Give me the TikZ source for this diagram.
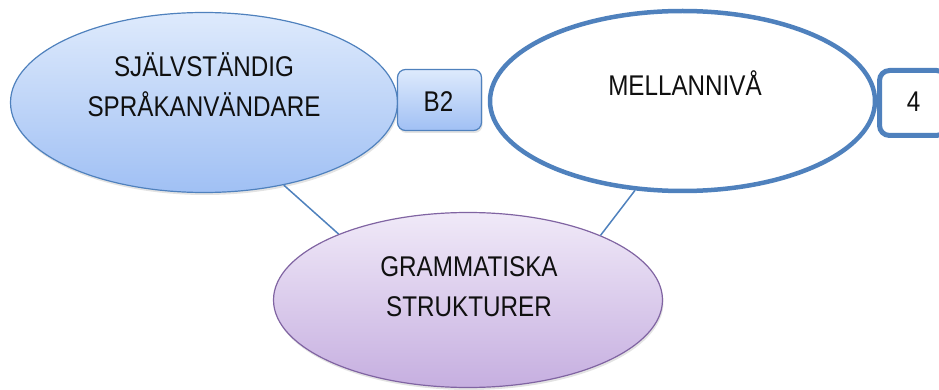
\documentclass[tikz,border=0pt]{standalone}
\usepackage{fontspec}
\setmainfont{Liberation Sans}[FakeStretch=0.85]
\usetikzlibrary{shapes.geometric,shadows}
\definecolor{bord}{HTML}{4F81BD}
\definecolor{lbtop}{HTML}{DEEAFC}
\definecolor{lbbot}{HTML}{A0C0F4}
\definecolor{pptop}{HTML}{F0E9F8}
\definecolor{ppbot}{HTML}{C6AFE0}
\definecolor{ppbord}{HTML}{8064A2}
\definecolor{txt}{HTML}{101010}
\tikzset{
  softshadow/.style={drop shadow={opacity=0.22,shadow xshift=1pt,shadow yshift=-2.5pt}},
  blueell/.style={ellipse, inner sep=0pt, draw=bord, line width=1.2pt,
    top color=lbtop, bottom color=lbbot, softshadow},
  bluebox/.style={rectangle, rounded corners=8pt, inner sep=0pt, draw=bord, line width=1.2pt,
    top color=lbtop, bottom color=lbbot, softshadow},
  whiteell/.style={ellipse, inner sep=0pt, draw=bord, line width=4.5pt, fill=white},
  whitebox/.style={rectangle, rounded corners=10pt, inner sep=0pt, draw=bord, line width=5pt, fill=white},
  purpell/.style={ellipse, inner sep=0pt, draw=ppbord, line width=1.2pt,
    top color=pptop, bottom color=ppbot, softshadow},
  lbl/.style={anchor=base, inner sep=0pt, text=txt, font=\fontsize{28.5}{34}\selectfont},
  conn/.style={draw=bord, line width=1.5pt}
}
\begin{document}
\begin{tikzpicture}[x=1pt,y=-1pt]
\useasboundingbox (0,0) rectangle (939,390);
% shapes
\node[blueell, minimum width=387pt, minimum height=180pt] (L) at (204,102.5) {};
\node[bluebox, minimum width=84pt, minimum height=61pt] (B) at (439.5,100) {};
\node[whiteell, minimum width=385pt, minimum height=180pt] (M) at (682.5,101) {};
\node[whitebox, minimum width=67pt, minimum height=65pt] (F) at (913,103) {};
\node[purpell, minimum width=389pt, minimum height=175pt] (G) at (468,300) {};
% connectors
\draw[conn] (L.-46.7) -- (G.153.8);
\draw[conn] (M.242.7) -- (G.26);
% texts
\node[lbl] (l1) at (204,77) {SJÄLVSTÄNDIG};
\node[lbl] (l2) at (204,117) {SPRÅKANVÄNDARE};
\node[lbl] (b2) at (438.5,111.7) {B2};
\node[lbl] (m1) at (685,95.5) {MELLANNIVÅ};
\node[lbl] (f1) at (913.5,111.7) {4};
\node[lbl] (g1) at (469,276.7) {GRAMMATISKA};
\node[lbl] (g2) at (469,316.7) {STRUKTURER};
\end{tikzpicture}
\end{document}
